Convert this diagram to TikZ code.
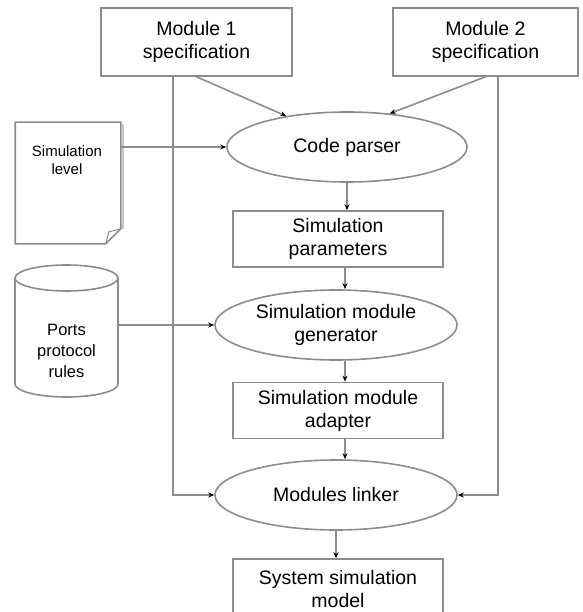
\documentclass[tikz,border=0pt]{standalone}
\usepackage{fontspec}
\setmainfont{Liberation Sans}
\usetikzlibrary{arrows.meta,shapes.geometric}
\definecolor{edgegray}{gray}{0.55}
\begin{document}
\begin{tikzpicture}[x=1pt,y=-1pt,line width=1.6pt,>={Stealth[length=6pt,width=5pt,black]},
	every node/.style={font=\fontsize{19.5}{23}\selectfont,align=center,inner sep=0pt},
	box/.style={draw=edgegray,rectangle,minimum width=210pt,minimum height=56pt},
	oval/.style={draw=edgegray,ellipse,minimum width=242pt,minimum height=70pt},
	link/.style={draw=edgegray,->}]
	\useasboundingbox (0,0) rectangle (582,612);
	% sources
	\node[box,minimum width=191pt,minimum height=68pt] (spec1) at (196.5,42) {Module 1\\specification};
	\node[box,minimum width=185pt,minimum height=68pt] (spec2) at (485.5,42) {Module 2\\specification};
	\node[minimum width=104pt,minimum height=120pt] (level) at (68,183) {};
	\node[font=\fontsize{15}{18}\selectfont] (leveltxt) at (67,160) {Simulation\\level};
	\node[minimum width=103pt,minimum height=132pt] (rules) at (66.5,331) {};
	\node[font=\fontsize{16.5}{21}\selectfont] (rulestxt) at (66.5,351) {Ports\\protocol\\rules};
	% main flow
	\node[oval,minimum width=240pt] (parser) at (347,147) {Code parser};
	\node[box] (params) at (338,239) {Simulation\\parameters};
	\node[oval] (gen) at (336,325) {Simulation module\\generator};
	\node[box] (adapter) at (338,410.5) {Simulation module\\adapter};
	\node[oval] (linker) at (336,495) {Modules linker};
	\node[box,minimum height=60pt] (sysmodel) at (338,589) {System simulation\\model};
	\coordinate (lbus) at (173,0);
	\coordinate (rbus) at (498,0);
	\coordinate (spine) at (345,0);
	% document and database outlines
	\draw[gray!45,line width=2.6pt] ([xshift=2pt,yshift=-2pt]level.north east) -- ([xshift=2pt,yshift=15pt]level.south east);
	\draw[edgegray] (level.north west) -- (level.north east) -- ([yshift=15pt]level.south east)
		-- ([xshift=-15pt]level.south east) -- (level.south west) -- cycle;
	\draw[edgegray,line width=1pt] ([yshift=15pt]level.south east) -- ([xshift=-12pt,yshift=12pt]level.south east) -- ([xshift=-15pt]level.south east);
	\draw[edgegray] (66.5,278) ellipse [x radius=51.5,y radius=13];
	\draw[edgegray] (15,278) -- (15,384) arc[start angle=180,end angle=0,x radius=51.5,y radius=13] -- (118,278);
	% connectors
	\draw[link] (spec1.south) -- (parser.153);
	\draw[link] (spec2.south) -- (parser.38);
	\draw[link] (level.east |- parser.west) -- (parser.west);
	\draw[link] (parser.south) -- (parser.south |- params.north);
	\draw[link] (params.south -| spine) -- (gen.north -| spine);
	\draw[link] (rules.east |- gen.west) -- (gen.west);
	\draw[link] (gen.south -| spine) -- (adapter.north -| spine);
	\draw[link] (adapter.south -| spine) -- (linker.north -| spine);
	\draw[link] (spec1.south -| lbus) |- (linker.west);
	\draw[link] (spec2.south -| rbus) |- (linker.east);
	\draw[link] (linker.south) -- (linker.south |- sysmodel.north);
\end{tikzpicture}
\end{document}
